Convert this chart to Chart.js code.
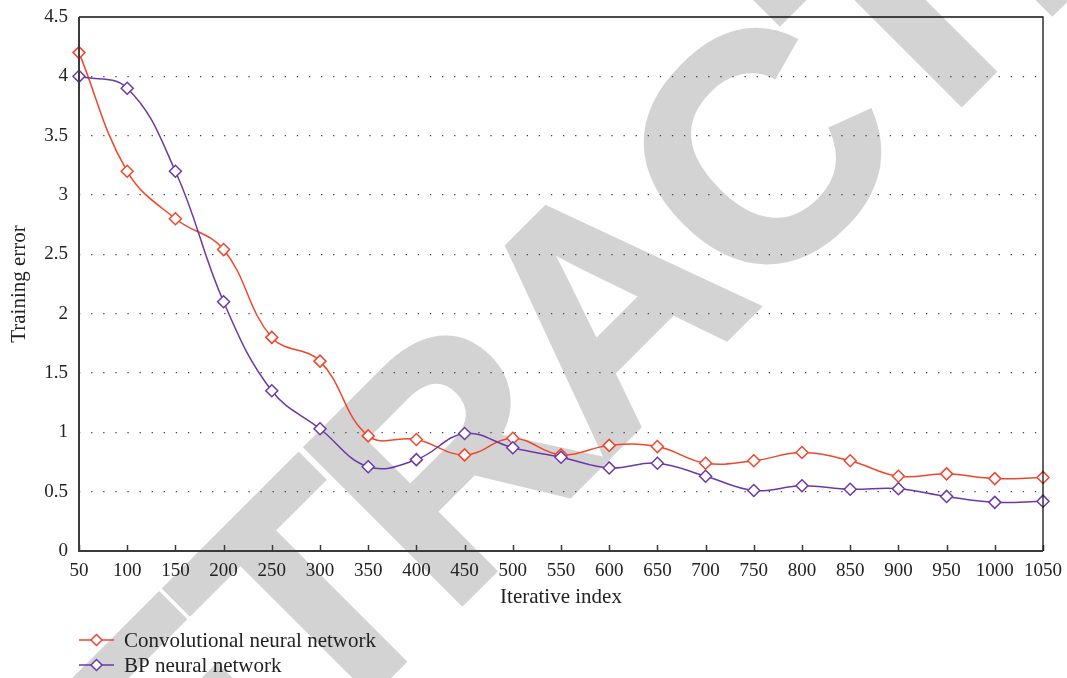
<!DOCTYPE html>
<html>
<head>
<meta charset="utf-8">
<script src="https://cdn.jsdelivr.net/npm/chart.js@4.4.1/dist/chart.umd.min.js"></script>
<style>
  html, body { margin: 0; padding: 0; background: #fff; }
  #wrap { width: 1067px; height: 678px; position: relative; }
</style>
</head>
<body>
<div id="wrap"><canvas id="chart"></canvas></div>
<script>
  // x categories (iterations) and the two training-error series
  const iterations = ['50', '100', '150', '200', '250', '300', '350', '400', '450', '500', '550',
                      '600', '650', '700', '750', '800', '850', '900', '950', '1000', '1050'];
  const cnnError = [4.2, 3.2, 2.8, 2.54, 1.8, 1.6, 0.97, 0.94, 0.81, 0.95, 0.81,
                    0.89, 0.88, 0.74, 0.76, 0.83, 0.76, 0.63, 0.65, 0.61, 0.62];
  const bpError  = [4.0, 3.9, 3.2, 2.1, 1.35, 1.03, 0.71, 0.77, 0.99, 0.87, 0.79,
                    0.70, 0.74, 0.63, 0.51, 0.55, 0.52, 0.525, 0.46, 0.41, 0.42];
  const seriesNames = ['Convolutional neural network', 'BP neural network'];
  const seriesColors = ['#f0462c', '#6c38a8'];
  const watermarkText = 'RETRACTED';

  const SERIF = '"Liberation Serif", "Times New Roman", serif';

  // big grey watermark under everything, letters set one by one (tight spacing)
  const watermark = {
    id: 'watermark',
    beforeDraw(chart) {
      const ctx = chart.ctx;
      ctx.save();
      ctx.fillStyle = '#fff';
      ctx.fillRect(0, 0, chart.width, chart.height);
      ctx.rotate(-Math.PI / 4);
      ctx.font = 'bold 322px "Liberation Sans", Arial, sans-serif';
      ctx.fillStyle = ctx.strokeStyle = '#d3d3d3';
      ctx.lineWidth = 4;
      ctx.lineJoin = 'miter';
      ctx.textAlign = 'center';
      ctx.textBaseline = 'alphabetic';
      const ls = -15;
      const chars = watermarkText.split('');
      const adv = chars.map((ch) => ctx.measureText(ch).width);
      const centers = [];
      centers[2] = -205; // first T
      for (let i = 3; i < chars.length; i++) centers[i] = centers[i - 1] + (adv[i - 1] + adv[i]) / 2 + ls;
      for (let i = 1; i >= 0; i--) centers[i] = centers[i + 1] - (adv[i + 1] + adv[i]) / 2 - ls;
      chars.forEach((ch, i) => {
        ctx.fillText(ch, centers[i], 754);
        ctx.strokeText(ch, centers[i], 754);
      });
      ctx.restore();
    }
  };

  // frame, inward x tick marks, legend
  const decor = {
    id: 'decor',
    afterDraw(chart) {
      const { ctx, chartArea: a } = chart;
      const xs = chart.scales.x;
      ctx.save();
      ctx.strokeStyle = '#3a3a3a';
      ctx.lineWidth = 1.5;
      xs.ticks.forEach((_, i) => {
        const px = Math.round(xs.getPixelForTick(i)) + 0.5;
        ctx.beginPath();
        ctx.moveTo(px, a.bottom);
        ctx.lineTo(px, a.bottom - 6);
        ctx.stroke();
      });
      ctx.strokeStyle = '#111';
      ctx.lineWidth = 1.3;
      ctx.beginPath();
      ctx.moveTo(a.left, a.top);
      ctx.lineTo(a.right, a.top);
      ctx.lineTo(a.right, a.bottom);
      ctx.stroke();
      ctx.strokeStyle = '#3a3a3a';
      ctx.lineWidth = 2;
      ctx.beginPath();
      ctx.moveTo(a.left, a.top);
      ctx.lineTo(a.left, a.bottom);
      ctx.lineTo(a.right, a.bottom);
      ctx.stroke();

      // legend
      ctx.font = '21px ' + SERIF;
      ctx.textBaseline = 'middle';
      seriesNames.forEach((name, i) => {
        const y = 640 + i * 25;
        ctx.strokeStyle = seriesColors[i];
        ctx.lineWidth = 1.5;
        ctx.beginPath();
        ctx.moveTo(79, y);
        ctx.lineTo(114, y);
        ctx.stroke();
        const cx = 96.5, r = 5.5;
        ctx.beginPath();
        ctx.moveTo(cx - r, y);
        ctx.lineTo(cx, y - r);
        ctx.lineTo(cx + r, y);
        ctx.lineTo(cx, y + r);
        ctx.closePath();
        ctx.fillStyle = '#fff';
        ctx.fill();
        ctx.stroke();
        ctx.fillStyle = '#222';
        ctx.fillText(name, 124, y + 1);
      });
      ctx.restore();
    }
  };

  const mkSet = (i, data, order) => ({
    label: seriesNames[i],
    data,
    borderColor: seriesColors[i],
    backgroundColor: '#fff',
    borderWidth: 1.5,
    tension: 0.4,
    pointStyle: 'rectRot',
    pointRadius: 6,
    pointHoverRadius: 6,
    pointBorderWidth: 1.5,
    pointBackgroundColor: '#fff',
    pointBorderColor: seriesColors[i],
    clip: false,
    order
  });

  new Chart(document.getElementById('chart'), {
    type: 'line',
    data: {
      labels: iterations,
      datasets: [mkSet(0, cnnError, 1), mkSet(1, bpError, 0)]
    },
    options: {
      responsive: true,
      maintainAspectRatio: false,
      animation: false,
      layout: { padding: { top: 17, right: 24, left: 0, bottom: 68 } },
      plugins: { legend: { display: false }, tooltip: { enabled: false } },
      scales: {
        x: {
          grid: { display: false },
          border: { display: false },
          ticks: { autoSkip: false, maxRotation: 0, padding: 1, color: '#222', font: { family: SERIF, size: 19 } },
          title: { display: true, text: 'Iterative index', color: '#222', padding: { top: 0, bottom: 0 }, font: { family: SERIF, size: 21 } },
          afterFit: (s) => { s.height = 59; s.paddingLeft = 0; s.paddingRight = 0; }
        },
        y: {
          min: 0,
          max: 4.5,
          ticks: {
            stepSize: 0.5, padding: 11, color: '#222', font: { family: SERIF, size: 19 },
            callback: (v) => String(Math.round(v * 10) / 10)
          },
          grid: {
            drawTicks: false,
            lineWidth: 1.2,
            color: (c) => (c.tick && (c.tick.value === 0 || c.tick.value === 4.5)) ? 'rgba(0,0,0,0)' : '#444'
          },
          border: { display: false, dash: [1.3, 10.8] },
          title: { display: true, text: 'Training error', color: '#222', padding: { top: 7, bottom: 0 }, font: { family: SERIF, size: 21 } },
          afterFit: (s) => { s.width = 79; s.paddingTop = 0; s.paddingBottom = 0; }
        }
      }
    },
    plugins: [watermark, decor]
  });
</script>
</body>
</html>
